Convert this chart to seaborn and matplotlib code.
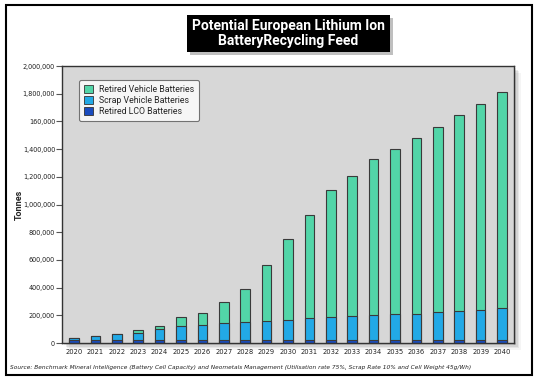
import numpy as np
import pandas as pd
import matplotlib
matplotlib.use('Agg')
import matplotlib.pyplot as plt
import seaborn as sns
from matplotlib.patches import Rectangle, Patch

years = [str(y) for y in range(2020, 2041)]

# tonnes
retired_lco = [22000, 20000, 20000, 20000, 20000, 20000, 20000, 20000, 20000, 20000, 20000,
               20000, 20000, 20000, 20000, 20000, 20000, 20000, 20000, 20000, 20000]
scrap_vehicle = [12000, 27000, 42000, 52000, 81000, 103000, 110000, 124000, 132000, 139000, 146000,
                 160000, 168000, 175000, 182000, 189000, 189000, 204000, 211000, 218000, 233000]
retired_vehicle = [3000, 3000, 3000, 22000, 22000, 65000, 87000, 152000, 238000, 404000, 585000,
                   744000, 917000, 1011000, 1126000, 1191000, 1271000, 1336000, 1415000, 1488000, 1557000]

ytick_vals = [0, 200000, 400000, 600000, 800000, 1000000, 1200000, 1400000, 1600000, 1800000, 2000000]
ytick_labels = ['0', '200,000', '400,000', '600,000', '800,000', '1,000,000', '1,200,000',
                '1,400,000', '160,000', '1,800,000', '2,000,000']

series_names = ['Retired Vehicle Batteries', 'Scrap Vehicle Batteries', 'Retired LCO Batteries']
colors = ['#52d5a8', '#22a9e6', '#1a4cbf']

df = pd.DataFrame({'year': years, 'lco': retired_lco, 'scrap': scrap_vehicle, 'retired': retired_vehicle})
df['blue_top'] = df['lco'] + df['scrap']
df['total'] = df['blue_top'] + df['retired']

sns.set_style('white')
sans = ['Roboto', 'DejaVu Sans']

fig = plt.figure(figsize=(5.37, 3.81), dpi=100)
fig.patch.set_facecolor('white')
W, H = 537, 381

# outer frame
fig.patches.append(Rectangle((6 / W, 1 - 375 / H), 526 / W, 370 / H, transform=fig.transFigure,
                             fill=False, edgecolor='black', linewidth=1.5, zorder=-2))

ax_l, ax_r, ax_t, ax_b = 62, 514, 66, 343
# plot area shadow
for i, a in enumerate([0.10, 0.08, 0.06, 0.04]):
    off = 2 + i * 1.5
    fig.patches.append(Rectangle(((ax_l + off) / W, 1 - (ax_b + off) / H), (ax_r - ax_l) / W,
                                 (ax_b - ax_t) / H, transform=fig.transFigure,
                                 facecolor='black', alpha=a, edgecolor='none', zorder=-1))

ax = fig.add_axes([ax_l / W, 1 - ax_b / H, (ax_r - ax_l) / W, (ax_b - ax_t) / H])
ax.set_zorder(1)
ax.set_facecolor('#d7d7d7')

for col, c in zip(['total', 'blue_top', 'lco'], colors):
    sns.barplot(data=df, x='year', y=col, color=c, width=0.45, edgecolor='#3a3a3a',
                linewidth=0.8, saturation=1, ax=ax)

ax.set_xlim(-0.56, 20.56)
ax.set_ylim(0, 2000000)
ax.set_yticks(ytick_vals)
ax.set_yticklabels(ytick_labels, fontsize=5.2, family='DejaVu Sans', stretch='condensed',
                   color='#222222')
ax.tick_params(axis='y', length=4, width=0.8, color='#555555', pad=1, left=True)
ax.tick_params(axis='x', length=0, pad=4)
for lab in ax.get_xticklabels():
    lab.set_fontsize(5.4)
    lab.set_family('DejaVu Sans')
    lab.set_stretch('condensed')
    lab.set_color('#222222')
ax.set_xlabel('')
ax.set_ylabel('')
for s in ax.spines.values():
    s.set_edgecolor('#333333')
    s.set_linewidth(1.0)

fig.text(19 / W, 1 - 205 / H, 'Tonnes', rotation=90, ha='center', va='center',
         fontsize=6.5, fontweight='bold', family=sans)

handles = [Patch(facecolor=c, edgecolor='#333333', linewidth=0.6) for c in colors]
leg = ax.legend(handles, series_names, loc='upper left', bbox_to_anchor=(0.028, 0.965),
                frameon=True, prop={'family': sans, 'size': 6.3},
                handlelength=1.1, handleheight=1.0, handletextpad=0.6, labelspacing=0.25,
                borderpad=0.55, fancybox=True)
leg.get_frame().set_facecolor('white')
leg.get_frame().set_edgecolor('#555555')
leg.get_frame().set_linewidth(0.8)

# title box with shadow
tx, ty = 288.5 / W, 1 - 33.5 / H
fig.patches.append(Rectangle((190 / W, 1 - 55 / H), 203 / W, 37 / H, transform=fig.transFigure,
                             facecolor='black', alpha=0.25, edgecolor='none', zorder=1))
fig.patches.append(Rectangle((187 / W, 1 - 52 / H), 203 / W, 37 / H, transform=fig.transFigure,
                             facecolor='black', edgecolor='none', zorder=2))
fig.text(tx, ty, 'Potential European Lithium Ion\nBatteryRecycling Feed', ha='center', va='center',
         color='white', fontsize=10, fontweight='bold', linespacing=1.05,
         family=sans, zorder=3)

fig.text(10 / W, 1 - 367 / H,
         'Source: Benchmark Mineral Intelligence (Battery Cell Capacity) and Neometals Management '
         '(Utilisation rate 75%, Scrap Rate 10% and Cell Weight 45g/Wh)',
         ha='left', va='center', fontsize=4.65, style='italic', family='DejaVu Sans',
         stretch='condensed', color='#222222')

fig.savefig('out.png', dpi=100)
